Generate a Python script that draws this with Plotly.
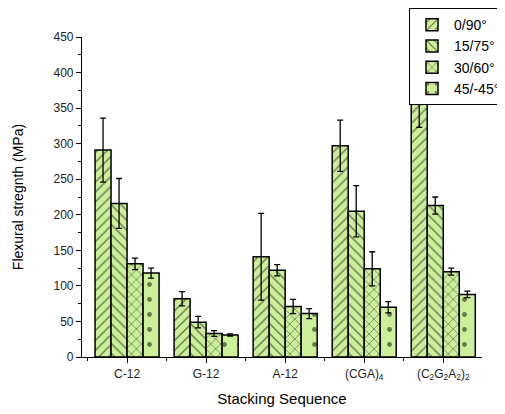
import plotly.graph_objects as go

categories = ["C-12", "G-12", "A-12", "(CGA)<sub>4</sub>", "(C<sub>2</sub>G<sub>2</sub>A<sub>2</sub>)<sub>2</sub>"]
series_names = ["0/90°", "15/75°", "30/60°", "45/-45°"]
val_0_90 = [291, 82, 141, 297, 363]
err_0_90 = [45, 10, 61, 36, 40]
val_15_75 = [216, 49, 122, 205, 213]
err_15_75 = [35, 8, 8, 36, 12]
val_30_60 = [131, 33, 71, 124, 120]
err_30_60 = [8, 4, 10, 24, 5]
val_45_45 = [118, 31, 61, 70, 88]
err_45_45 = [7, 1.5, 7, 8, 4.5]
y_ticks = [0, 50, 100, 150, 200, 250, 300, 350, 400, 450]

values = [val_0_90, val_15_75, val_30_60, val_45_45]
errors = [err_0_90, err_15_75, err_30_60, err_45_45]
shapes = ["/", "\\", "x", "."]
sizes = [7, 7, 7, 15]
solid = [0.2, 0.2, 0.2, 0.08]
fill = "#cdef9a"

xpos = list(range(len(categories)))
fig = go.Figure()
for name, v, e, sh, sz, so in zip(series_names, values, errors, shapes, sizes, solid):
    fig.add_trace(go.Bar(
        x=xpos, y=v, name=name,
        marker=dict(color=fill, line=dict(color="black", width=1.5),
                    pattern=dict(shape=sh, fgcolor="black", bgcolor=fill, size=sz, solidity=so, fillmode="overlay")),
        error_y=dict(type="data", array=e, color="black", thickness=1.3, width=3),
    ))

fig.update_layout(
    width=497, height=406,
    margin=dict(l=74, r=23, t=29, b=57, autoexpand=False),
    paper_bgcolor="white", plot_bgcolor="white",
    barmode="group", bargap=0.19, bargroupgap=0,
    font=dict(family="Arial, Liberation Sans, sans-serif", size=12, color="#222"),
    showlegend=True,
    legend=dict(x=0.8175, y=1.09, xanchor="left", yanchor="top",
                bgcolor="white", bordercolor="black", borderwidth=1,
                font=dict(size=14, color="black"), tracegroupgap=0, itemwidth=34),
    xaxis=dict(range=[-0.57, 4.49], tickvals=xpos, ticktext=categories,
               showline=True, linecolor="black", linewidth=1.2, ticks="outside",
               ticklen=5, tickcolor="black", showgrid=False, zeroline=False,
               minor=dict(tick0=0.5, dtick=1, ticks="outside", ticklen=3, tickcolor="black"),
               title=dict(text="Stacking Sequence", font=dict(size=15, color="black"), standoff=12)),
    yaxis=dict(range=[0, 450], tickvals=y_ticks, showline=True, linecolor="black", linewidth=1.2,
               ticks="outside", ticklen=5, tickcolor="black", showgrid=False, zeroline=False,
               minor=dict(dtick=25, ticks="outside", ticklen=3, tickcolor="black"),
               title=dict(text="Flexural stregnth (MPa)", font=dict(size=14, color="black"), standoff=26)),
)

fig.write_html("out.html")
